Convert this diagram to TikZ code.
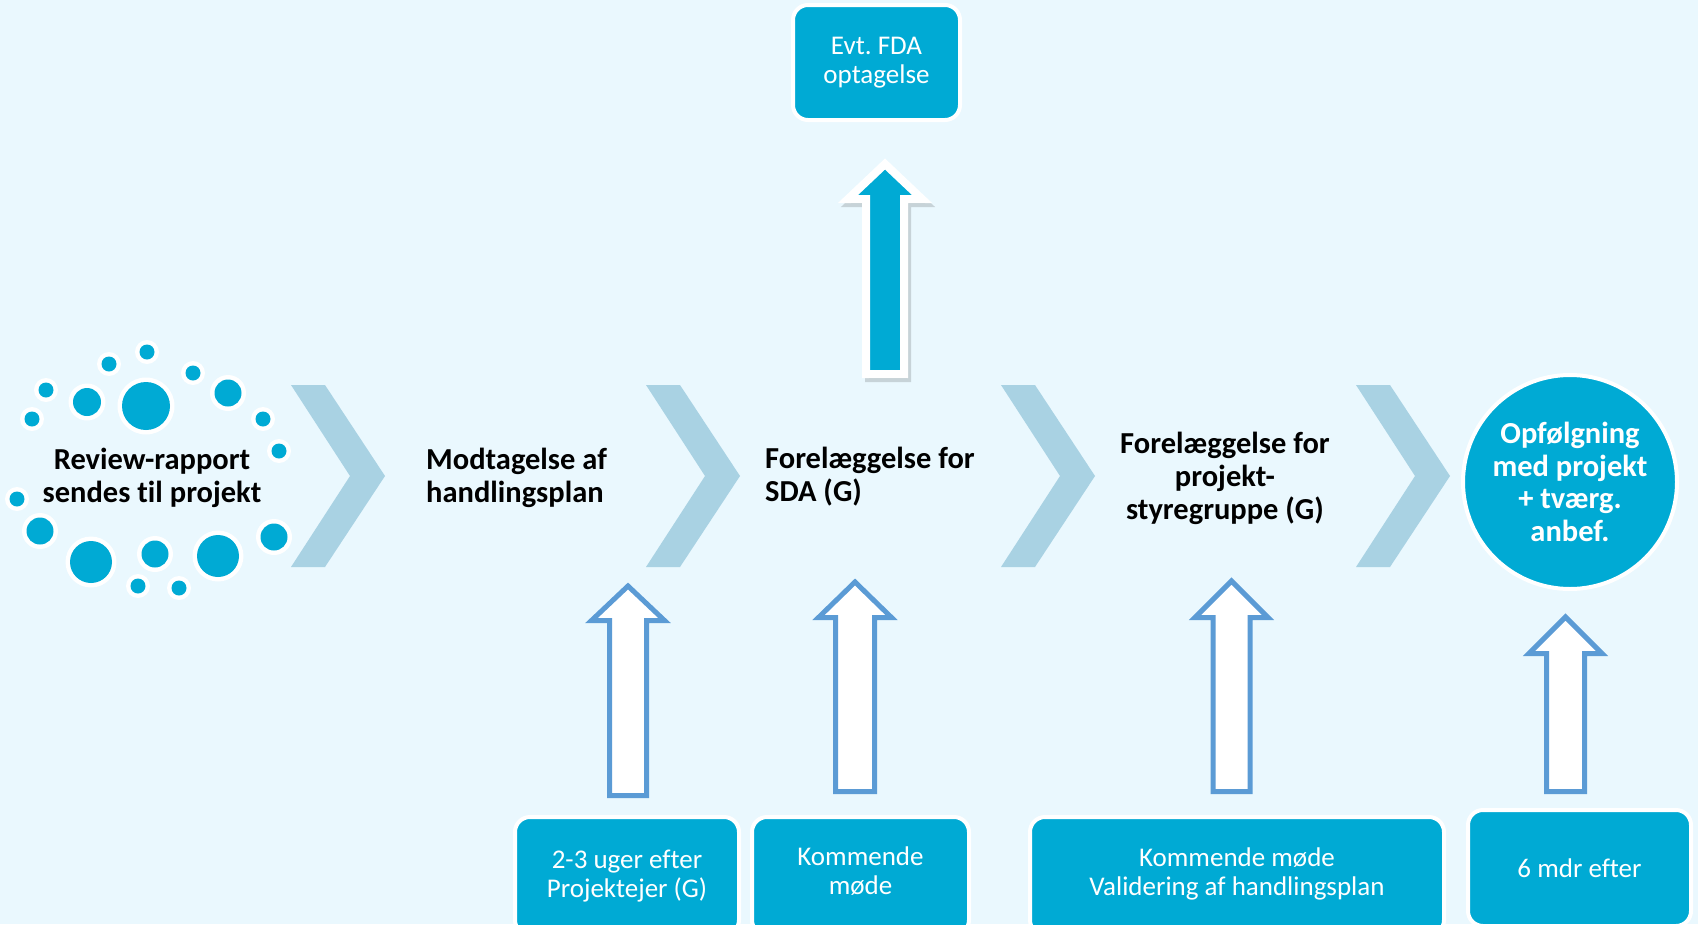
\documentclass[tikz,border=0pt]{standalone}
\usepackage{fontspec}
\setmainfont{Carlito}[Ligatures={TeX,NoCommon}]
\frenchspacing
\definecolor{bg}{HTML}{EAF8FE}
\definecolor{chev}{HTML}{A9D2E3}
\definecolor{cblue}{HTML}{00AAD4}
\definecolor{oblue}{HTML}{5B9BD5}
% #1 style, #2 cx, #3 tip y, #4 head base y, #5 head half width, #6 shaft half width, #7 bottom y
\newcommand\BArrow[7]{%
  \draw[#1] ({#2-#6},#7) -- ({#2-#6},#4) -- ({#2-#5},#4) -- (#2,#3) -- ({#2+#5},#4) -- ({#2+#6},#4) -- ({#2+#6},#7) -- cycle;}
\begin{document}
\begin{tikzpicture}[x=1pt,y=-1pt,
  steptext/.style={font=\fontsize{30.5}{33}\selectfont\bfseries, text=black, inner sep=0pt},
  boxtext/.style={rounded corners=15pt, fill=cblue, draw=white, line width=4pt, text=white,
    font=\fontsize{27}{29}\selectfont, align=center, inner sep=0pt},
  chevron/.style={fill=chev},
  outarrow/.style={fill=white, draw=oblue, line width=5pt, line join=miter},
  bigarrow/.style={fill=cblue, draw=white, line width=8pt, line join=miter},
  arrowshadow/.style={fill=black, draw=black, line width=8pt, line join=miter, opacity=0.15}
]
\fill[bg] (0,0) rectangle (1698,924);
\useasboundingbox (0,0) rectangle (1698,924);
\clip (0,0) rectangle (1698,924);

% chevrons
\foreach \x in {291,646,1001,1356}{
  \fill[chevron] (\x,385) -- ++(34,0) -- ++(60,91) -- ++(-60,91) -- ++(-34,0) -- ++(59,-91) -- cycle;
}

% dots
\foreach \x/\y/\r [evaluate=\r as \rr using \r+4.5] in {
  146/406/24, 87/402/14, 46/390/7.5, 32/419/7.5, 109/364/7.5, 147/352/7.5,
  193/373/7.5, 228/393/13.5, 263/419/7.5, 279/451/7.5, 17/499/7.5, 40/531/13.5,
  91/562/21, 155/554/13.5, 218/556/21, 274/537/13.5, 138/586/7.5, 179/588/7.5}{
  \fill[white] (\x,\y) circle[radius=\rr pt];
  \fill[cblue] (\x,\y) circle[radius=\r pt];
}

% top arrow with shadow
\begin{scope}[xshift=3pt,yshift=-4pt]
\BArrow{arrowshadow}{885}{164}{199}{37}{19}{374}
\end{scope}
\BArrow{bigarrow}{885}{164}{199}{37}{19}{374}

% hollow arrows
\BArrow{outarrow}{628}{586}{620.5}{36.5}{18.5}{795.5}
\BArrow{outarrow}{855}{582}{617.5}{36.5}{19.5}{791.5}
\BArrow{outarrow}{1231.5}{581}{617.5}{36.5}{18.5}{791.5}
\BArrow{outarrow}{1565.5}{617}{653.5}{36.5}{19}{791.5}

% step texts
\node[steptext, align=center] (s1) at (152,478) {Review-rapport\\sendes til projekt};
\node[steptext, align=left, anchor=west] (s2) at (426,478) {Modtagelse af\\handlingsplan};
\node[steptext, align=left, anchor=west] (s3) at (765,477) {Forelæggelse for\\SDA (G)};
\node[steptext, align=center] (s4) at (1225,478) {Forelæggelse for\\projekt-\\styregruppe (G)};
\node[circle, fill=cblue, draw=white, line width=4pt, minimum size=214pt, text=white,
  font=\fontsize{30.5}{32.5}\selectfont\bfseries, align=center, inner sep=0pt] (s5) at (1570,482)
  {Opfølgning\\med projekt\\+ tværg.\\anbef.};

% boxes
\node[boxtext, minimum width=167pt, minimum height=115pt] (fda) at (876.5,62.5) {Evt.\ FDA\\optagelse};
\node[boxtext, minimum width=224pt, minimum height=118pt] (b1) at (627,876) {2-3 uger efter\\Projektejer (G)};
\node[boxtext, minimum width=217pt, minimum height=118pt, text depth=0pt] (b2) at (860.5,876) {};
\node[text=white, font=\fontsize{27}{29}\selectfont, align=center, inner sep=0pt] (b2t) at (860.5,871.5) {Kommende\\møde};
\node[boxtext, minimum width=414pt, minimum height=118pt] (b3) at (1237,876) {};
\node[text=white, font=\fontsize{27}{29}\selectfont, align=center, inner sep=0pt] (b3t) at (1237,874) {Kommende møde\\Validering af handlingsplan};
\node[boxtext, minimum width=223pt, minimum height=116pt] (b4) at (1579.5,868) {6 mdr efter};
\end{tikzpicture}
\end{document}
